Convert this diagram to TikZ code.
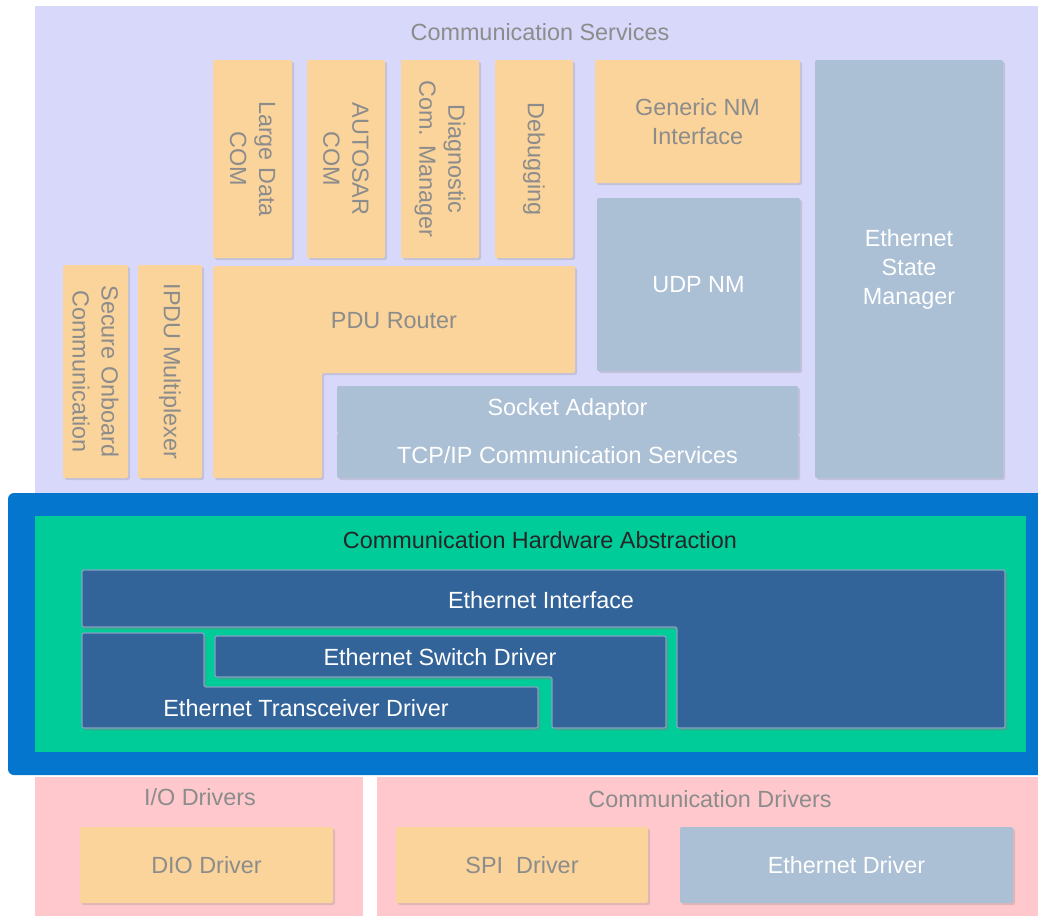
\documentclass[tikz,border=0pt]{standalone}
\usepackage{fontspec}
\setmainfont{Liberation Sans}
\usepackage{tikz}
\usetikzlibrary{shadows}
\definecolor{servlav}{RGB}{216,216,250}
\definecolor{modorange}{RGB}{250,212,154}
\definecolor{modgray}{RGB}{171,191,213}
\definecolor{hwgreen}{RGB}{0,204,153}
\definecolor{hwframe}{RGB}{5,118,206}
\definecolor{hwdark}{RGB}{50,99,153}
\definecolor{drvpink}{RGB}{255,200,204}
\definecolor{labelgray}{RGB}{140,140,140}

\begin{document}
\begin{tikzpicture}[x=0.5pt, y=-0.5pt,
  txt/.style={font=\fontsize{11.7}{14.5}\selectfont, align=center, inner sep=0pt},
  layertitle/.style={txt, text=labelgray},
  orangebox/.style={fill=modorange, rounded corners=1pt, drop shadow={shadow xshift=1pt, shadow yshift=-1pt, opacity=0.25}},
  graybox/.style={fill=modgray, rounded corners=1pt, drop shadow={shadow xshift=1pt, shadow yshift=-1pt, opacity=0.25}},
  darkbox/.style={fill=hwdark, draw=hwdark!60!white, line width=0.6pt, rounded corners=1pt, drop shadow={shadow xshift=1pt, shadow yshift=-1.2pt, opacity=0.45}},
  otxt/.style={txt, text=labelgray},
  wtxt/.style={txt, text=white},
  vtxt/.style={otxt, rotate=-90}
]
\useasboundingbox (0,0) rectangle (1038,916);

% layers
\fill[servlav] (35,6) rectangle (1038,493);
\fill[drvpink] (35,777) rectangle (363,916);
\fill[drvpink] (377,777) rectangle (1038,916);
\fill[hwframe, rounded corners=3pt] (8,493) rectangle (1046,775);
\fill[hwgreen] (35,516) rectangle (1026,752);

\node[layertitle] (srvtitle) at (540,32) {Communication Services};
\node[txt, text=black!85] (hwtitle) at (540,540) {Communication Hardware Abstraction};
\node[layertitle] (iotitle) at (200,797) {I/O Drivers};
\node[layertitle] (cdrvtitle) at (710,799) {Communication Drivers};

% communication services
\path[orangebox] (213,60) rectangle (292,258) node[midway, vtxt] (ldcom) {Large Data\\COM};
\path[orangebox] (307,60) rectangle (385,258) node[midway, vtxt] (ascom) {AUTOSAR\\COM};
\path[orangebox] (401,60) rectangle (479,258) node[midway, vtxt] (dcm) {Diagnostic\\Com. Manager};
\path[orangebox] (495,60) rectangle (573,258) node[midway, vtxt] (dbg) {Debugging};
\path[orangebox] (595,60) rectangle (800,183) node[midway, otxt] (nmif) {Generic NM\\Interface};
\path[graybox] (597,198) rectangle (800,371) node[midway, wtxt] (udpnm) {UDP NM};
\path[graybox] (815,60) rectangle (1003,478) node[midway, wtxt] (ethsm) {Ethernet\\State\\Manager};
\path[orangebox] (63,265) rectangle (128,478) node[midway, vtxt] (secoc) {Secure Onboard\\Communication};
\path[orangebox] (138,265) rectangle (202,478) node[midway, vtxt] (ipdum) {IPDU Multiplexer};
\path[orangebox] (213,266) -- (575,266) -- (575,373) -- (322,373) -- (322,478) -- (213,478) -- cycle;
\node[otxt] (pdur) at (394,321) {PDU Router};
\path[graybox] (337,386) rectangle (798,433) node[midway, wtxt] (soad) {Socket Adaptor};
\path[graybox] (337,433) rectangle (798,478) node[midway, wtxt] (tcpip) {TCP/IP Communication Services};

% hardware abstraction
\path[darkbox] (82,570) -- (1005,570) -- (1005,728) -- (677,728) -- (677,627) -- (82,627) -- cycle;
\node[wtxt] (ethif) at (541,600) {Ethernet Interface};
\path[darkbox] (215,636) -- (666,636) -- (666,728) -- (552,728) -- (552,677) -- (215,677) -- cycle;
\node[wtxt] (ethswt) at (440,657) {Ethernet Switch Driver};
\path[darkbox] (82,633) -- (204,633) -- (204,687) -- (538,687) -- (538,728) -- (82,728) -- cycle;
\node[wtxt] (ethtrcv) at (306,708) {Ethernet Transceiver Driver};

% drivers
\path[orangebox] (80,827) rectangle (333,903) node[midway, otxt] (dio) {DIO Driver};
\path[orangebox] (396,827) rectangle (648,903) node[midway, otxt] (spi) {SPI\ \ Driver};
\path[graybox] (680,827) rectangle (1013,903) node[midway, wtxt] (eth) {Ethernet Driver};
\end{tikzpicture}
\end{document}
